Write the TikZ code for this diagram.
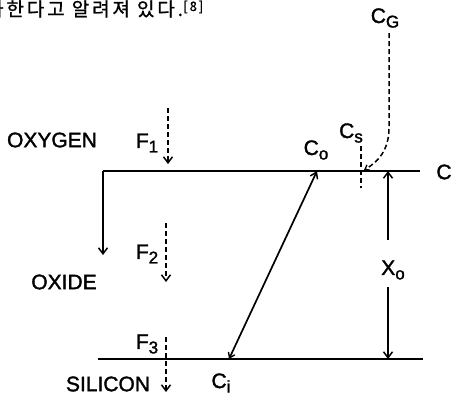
\documentclass[tikz,border=0pt]{standalone}
\usepackage{fontspec}
\setmainfont{Liberation Sans}
\newfontfamily\lblfont[FakeBold=1.6]{Liberation Sans}
\newfontfamily\krfont[LetterSpace=15,FakeBold=1]{Noto Sans CJK KR}
\usetikzlibrary{arrows.meta}
\newcommand{\sbs}[1]{\raisebox{-4.5pt}{\fontsize{17}{17}\selectfont #1}}
\begin{document}
\begin{tikzpicture}[x=1pt,y=-1pt,
  lbl/.style={inner sep=0pt, font=\lblfont\fontsize{21}{21}\selectfont},
  solidln/.style={line width=1.7pt},
  dashln/.style={line width=1.5pt, dash pattern=on 5pt off 3pt},
  tipb/.style={-{Straight Barb[length=6pt,width=9pt,line width=1.5pt]}},
  tips/.style={-{Straight Barb[length=4pt,width=6pt,line width=1.3pt]}}
]
\useasboundingbox (0,0) rectangle (453,399);
\clip (0,0) rectangle (453,399);
% text line at top
\node[anchor=base west, inner sep=0pt, font=\krfont\fontsize{19}{19}\selectfont] (kr) at (-14,16) {가한다고 알려져 있다.};
\node[anchor=base west, inner sep=0pt, font=\krfont\fontsize{13}{13}\selectfont] (ref) at (kr.base east) [xshift=0pt,yshift=5pt] {[8]};
% coordinates
\coordinate (TL) at (103,171);
\coordinate (TR) at (420,171);
\coordinate (BL) at (98,359);
\coordinate (BR) at (423,359);
\coordinate (co) at (317,171);
\coordinate (ci) at (229,359);
\coordinate (xt) at (388,171);
\coordinate (xb) at (388,359);
\coordinate (xu) at (388,240);
\coordinate (xl) at (388,287);
\coordinate (oxa) at (103,255);
\coordinate (f1a) at (168,108);
\coordinate (f1b) at (168,164);
\coordinate (f2a) at (166,223);
\coordinate (f2b) at (166,282);
\coordinate (f3a) at (166,337);
\coordinate (f3b) at (166,392);
\coordinate (csa) at (361,146);
\coordinate (csb) at (361,188);
\coordinate (cga) at (389,33);
\coordinate (cgm) at (389,128);
\coordinate (cgb) at (364,170);
% solid lines
\draw[solidln] (TL) -- (TR);
\draw[solidln] (BL) -- (BR);
\draw[solidln,tipb] (TL) -- (oxa);
\draw[solidln,{Straight Barb[length=5pt,width=7pt,line width=1.4pt]}-{Straight Barb[length=6pt,width=8pt,line width=1.5pt]}] (ci) -- (co);
\draw[solidln,tipb] (xu) -- (xt);
\draw[solidln,tipb] (xl) -- (xb);
% dashed lines
\draw[dashln,tipb] (f1a) -- (f1b);
\draw[dashln,tipb] (f2a) -- (f2b);
\draw[dashln,tipb] (f3a) -- (f3b);
\draw[dashln] (csa) -- (csb);
\draw[dashln,tips] (cga) -- (cgm) .. controls (389,150) and (378,162) .. (cgb);
% labels
\node[lbl] (cg) at (385,18) {C\sbs{G}};
\node[lbl] (cs) at (351,133) {C\sbs{s}};
\node[lbl] (col) at (316,150) {C\sbs{o}};
\node[lbl] (cil) at (221,383) {C\sbs{i}};
\node[lbl] (cr) at (444,172) {C};
\node[lbl] (f1) at (147,143) {F\sbs{1}};
\node[lbl] (f2) at (147,254) {F\sbs{2}};
\node[lbl] (f3) at (147,344) {F\sbs{3}};
\node[lbl] (xo) at (393,270) {X\sbs{o}};
\node[lbl] (oxy) at (52,140) {OXYGEN};
\node[lbl] (oxi) at (64,282) {OXIDE};
\node[lbl] (sil) at (108,384) {SILICON};
\end{tikzpicture}
\end{document}
